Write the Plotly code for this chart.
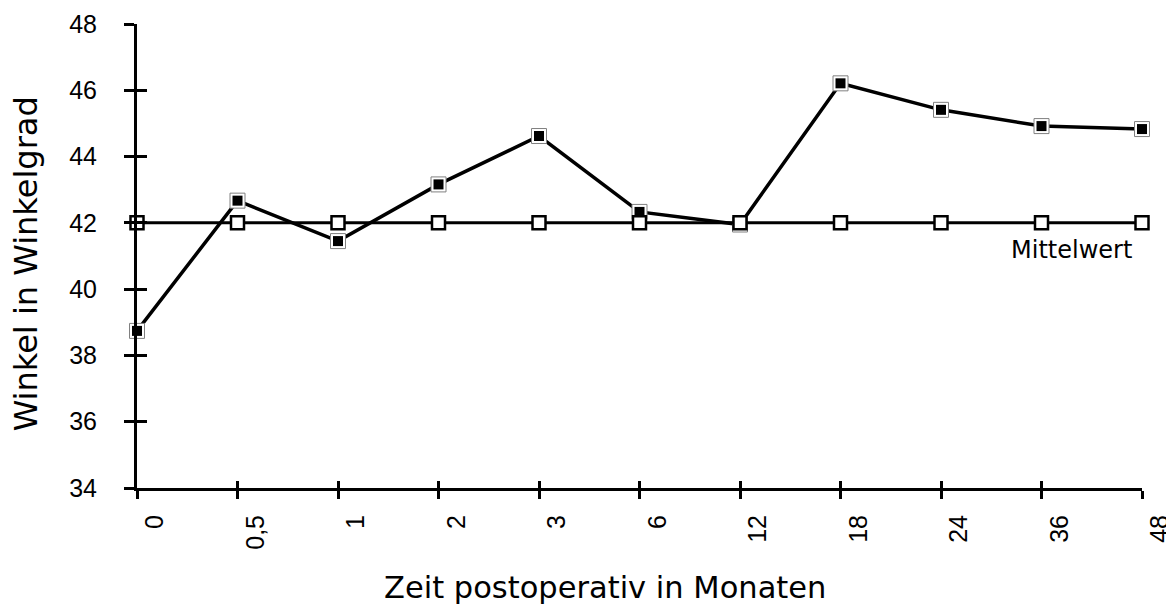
import plotly.graph_objects as go

months = ["0", "0,5", "1", "2", "3", "6", "12", "18", "24", "36", "48"]
winkel = [38.74, 42.67, 41.45, 43.16, 44.62, 42.33, 41.95, 46.21, 45.41, 44.92, 44.83]
mittelwert = [42, 42, 42, 42, 42, 42, 42, 42, 42, 42, 42]
y_ticks = [34, 36, 38, 40, 42, 44, 46, 48]

tick_font = dict(family="Liberation Sans, Arial", size=25, color="black")

fig = go.Figure()

# measured angle: line + outlined white squares, black squares on top
fig.add_trace(go.Scatter(
    x=months, y=winkel, mode="lines+markers", cliponaxis=False,
    line=dict(color="black", width=3.5),
    marker=dict(symbol="square", size=15, color="white", line=dict(color="#808080", width=1)),
    showlegend=False,
))
fig.add_trace(go.Scatter(
    x=months, y=winkel, mode="markers", cliponaxis=False,
    marker=dict(symbol="square", size=10, color="black"),
    showlegend=False,
))
# mean line, on the overlay axes (they carry the inward half of the crossing ticks)
fig.add_trace(go.Scatter(
    x=months, y=mittelwert, mode="lines+markers", cliponaxis=False,
    xaxis="x2", yaxis="y2",
    line=dict(color="black", width=3),
    marker=dict(symbol="square", size=13, color="white", line=dict(color="black", width=2.5)),
    showlegend=False,
))

# page body has an 8px margin, so margins are trimmed to land the plot where the original sits
fig.update_layout(
    width=1174, height=605,
    margin=dict(l=129, r=40, t=16, b=125),
    plot_bgcolor="white", paper_bgcolor="white",
    xaxis=dict(
        type="category", range=[0, 10], automargin=False,
        showline=True, linecolor="black", linewidth=3,
        ticks="outside", ticklen=8, tickwidth=3, tickcolor="black",
        tickangle=-90, tickfont=tick_font,
        ticklabelshift=18, ticklabelstandoff=6,
        showgrid=False, zeroline=False,
    ),
    xaxis2=dict(
        type="category", overlaying="x", anchor="y2", side="bottom",
        range=[0, 10], automargin=False,
        ticks="inside", ticklen=7, tickwidth=3, tickcolor="black",
        showticklabels=False, showline=False, showgrid=False, zeroline=False,
    ),
    yaxis=dict(
        range=[34, 48], tickvals=y_ticks, automargin=False,
        showline=True, linecolor="black", linewidth=3,
        ticks="outside", ticklen=10, tickwidth=3, tickcolor="black",
        tickfont=tick_font, ticklabelstandoff=22,
        showgrid=False, zeroline=False,
    ),
    yaxis2=dict(
        overlaying="y", anchor="x2", side="left", range=[34, 48], automargin=False,
        tickvals=y_ticks, ticks="inside", ticklen=10, tickwidth=3,
        tickcolor="black", showticklabels=False,
        showline=False, showgrid=False, zeroline=False,
    ),
    annotations=[
        dict(text="Zeit postoperativ in Monaten", xref="paper", yref="paper",
             x=0.466, y=-0.215, xanchor="center", yanchor="middle",
             showarrow=False, font=dict(family="DejaVu Sans", size=30.5, color="black")),
        dict(text="Winkel in Winkelgrad", xref="paper", yref="paper",
             x=-0.111, y=0.483, xanchor="center", yanchor="middle",
             textangle=-90, showarrow=False, font=dict(family="DejaVu Sans", size=32, color="black")),
        dict(text="Mittelwert", xref="paper", yref="y",
             x=0.93, y=42, yshift=-27, xanchor="center", yanchor="middle",
             showarrow=False, font=dict(family="DejaVu Sans", size=24, color="black")),
    ],
)

fig.write_html("out.html")
